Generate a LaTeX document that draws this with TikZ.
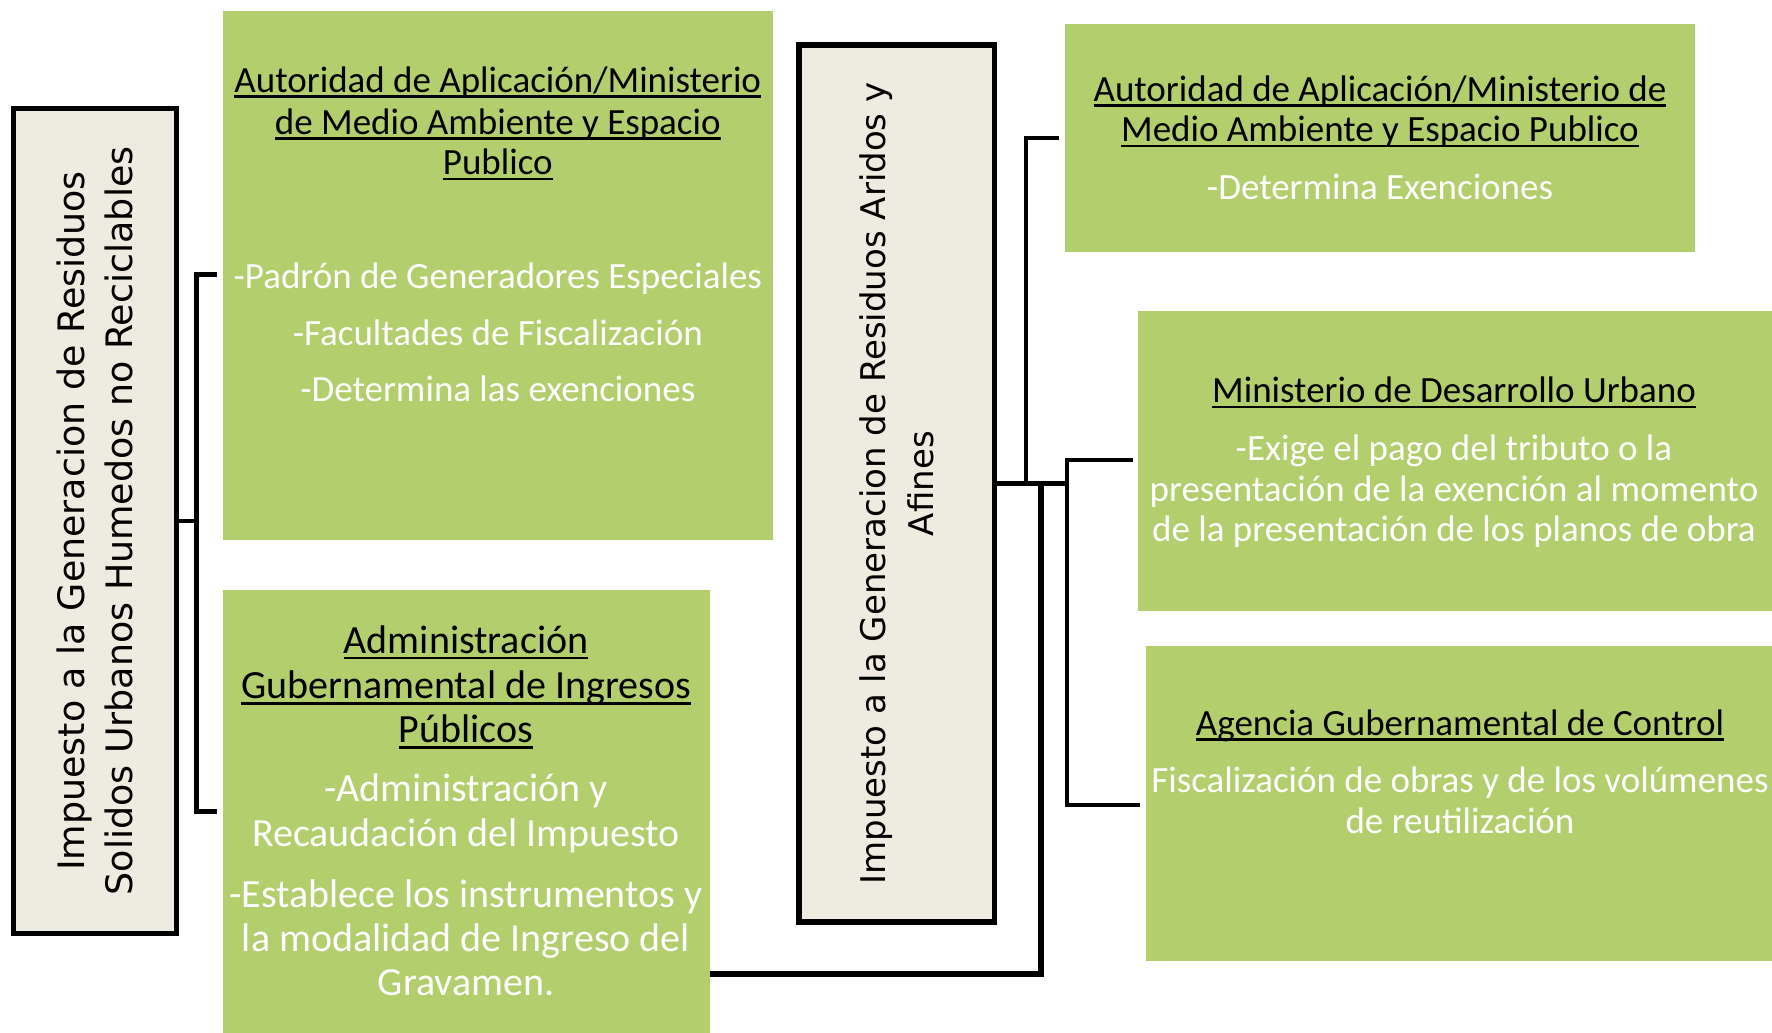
\documentclass[tikz,border=0pt]{standalone}
\usepackage{fontspec}
\setmainfont{Carlito}
\newfontfamily\dvs{DejaVu Sans}
\usetikzlibrary{fit}
\definecolor{boxgreen}{RGB}{179,206,108}
\definecolor{boxbeige}{RGB}{238,236,225}
\newsavebox\ulbox
\newcommand\uln[1]{\sbox\ulbox{#1}\rlap{\rule[-0.15em]{\wd\ulbox}{0.07em}}\usebox\ulbox}
\begin{document}
\begin{tikzpicture}[x=0.5pt,y=-0.5pt,
 gbox/.style={fill=boxgreen, draw=none, inner sep=0pt},
 bbox/.style={fill=boxbeige, draw=black, line width=2.8pt, inner sep=0pt},
 conn/.style={draw=black, line width=2.3pt, line join=miter},
 ttl/.style={anchor=base, inner sep=0pt, text=black, font=\fontsize{18.5}{20.6}\selectfont},
 bdy/.style={anchor=base, inner sep=0pt, text=white, font=\fontsize{18.5}{20.6}\selectfont},
 ttlb/.style={ttl, font=\fontsize{20}{22.3}\selectfont},
 bdyb/.style={bdy, font=\fontsize{20}{22.3}\selectfont},
 rotl/.style={align=center, rotate=90, inner sep=0pt, text=black, font=\dvs\fontsize{18.2}{24.3}\selectfont},
 rotm/.style={align=center, rotate=90, inner sep=0pt, text=black, font=\dvs\fontsize{17}{23.7}\selectfont}]
\useasboundingbox[fill=white] (0,0) rectangle (1772,1033);

% boxes
\node[bbox, fit={(13.6,108.5) (176.3,933.5)}] (lb) {};
\node[bbox, fit={(799,45.2) (994.5,922)}] (mb) {};
\node[gbox, fit={(222.6,11.3) (773,540)}] (tl) {};
\node[gbox, fit={(222.6,590) (709.7,1033)}] (bl) {};
\node[gbox, fit={(1064.6,23.7) (1695,252)}] (tr) {};
\node[gbox, fit={(1138,310.8) (1772,611.4)}] (mr) {};
\node[gbox, fit={(1146,646.4) (1772,960.6)}] (br) {};

% rotated texts
\node[rotl] (lbt) at (lb.center) {Impuesto a la Generacion de Residuos\\Solidos Urbanos Humedos no Reciclables};
\node[rotm] (mbt) at (mb.center) {Impuesto a la Generacion de Residuos Aridos y\\Afines};

% top-left box
\node[ttl] (tl1) at (497.8,92) {\uln{Autoridad de Aplicación/Ministerio}};
\node[ttl] (tl2) at (497.8,134) {\uln{de Medio Ambiente y Espacio}};
\node[ttl] (tl3) at (497.8,174.6) {\uln{Publico}};
\node[bdy] (tl4) at (497.8,288.7) {-Padrón de Generadores Especiales};
\node[bdy] (tl5) at (497.8,345.2) {-Facultades de Fiscalización};
\node[bdy] (tl6) at (497.8,401.7) {-Determina las exenciones};

% bottom-left box
\node[ttlb] (bl1) at (466,653.3) {\uln{Administración}};
\node[ttlb] (bl2) at (466,698.5) {\uln{Gubernamental de Ingresos}};
\node[ttlb] (bl3) at (466,742.6) {\uln{Públicos}};
\node[bdyb] (bl4) at (466,801.4) {-Administración y};
\node[bdyb] (bl5) at (466,846.6) {Recaudación del Impuesto};
\node[bdyb] (bl6) at (466,907.6) {-Establece los instrumentos y};
\node[bdyb] (bl7) at (466,951.7) {la modalidad de Ingreso del};
\node[bdyb] (bl8) at (466,995.7) {Gravamen.};

% top-right box
\node[ttl] (tr1) at (1380,101.1) {\uln{Autoridad de Aplicación/Ministerio de}};
\node[ttl] (tr2) at (1380,141.8) {\uln{Medio Ambiente y Espacio Publico}};
\node[bdy] (tr3) at (1380,199.5) {-Determina Exenciones};

% middle-right box
\node[ttl] (mr1) at (1454,402.9) {\uln{Ministerio de Desarrollo Urbano}};
\node[bdy] (mr2) at (1454,460.5) {-Exige el pago del tributo o la};
\node[bdy] (mr3) at (1454,501.2) {presentación de la exención al momento};
\node[bdy] (mr4) at (1454,541.9) {de la presentación de los planos de obra};

% bottom-right box
\node[ttl] (br1) at (1460,735.1) {\uln{Agencia Gubernamental de Control}};
\node[bdy] (br2) at (1460,792.8) {Fiscalización de obras y de los volúmenes};
\node[bdy] (br3) at (1460,833.4) {de reutilización};

% junction coordinates
\coordinate (LA) at (196.6,274.6);
\coordinate (LB) at (196.6,811.4);
\coordinate (R0) at (1069,483.7);
\coordinate (R1) at (1026,137.9);
\coordinate (R2) at (1041,974);
\coordinate (R3) at (1067,460);
\coordinate (R4) at (1067,805);

% left connectors
\draw[conn] (lb.east) -- (lb.east -| LA);
\draw[conn] ([xshift=-2.5pt]tl.west |- LA) -- (LA) -- (LB) -- ([xshift=-2.5pt]bl.west |- LB);

% right connectors
\draw[conn] (mb.east) -- (mb.east -| R0);
\draw[conn] (R1 |- R0) -- (R1) -- ([xshift=-2.5pt]tr.west |- R1);
\draw[conn, line width=2.6pt] (R2 |- R0) -- (R2) -- (bl.east |- R2);
\draw[conn] ([xshift=-2.5pt]mr.west |- R3) -- (R3) -- (R4) -- ([xshift=-3pt]br.west |- R4);
\end{tikzpicture}
\end{document}
